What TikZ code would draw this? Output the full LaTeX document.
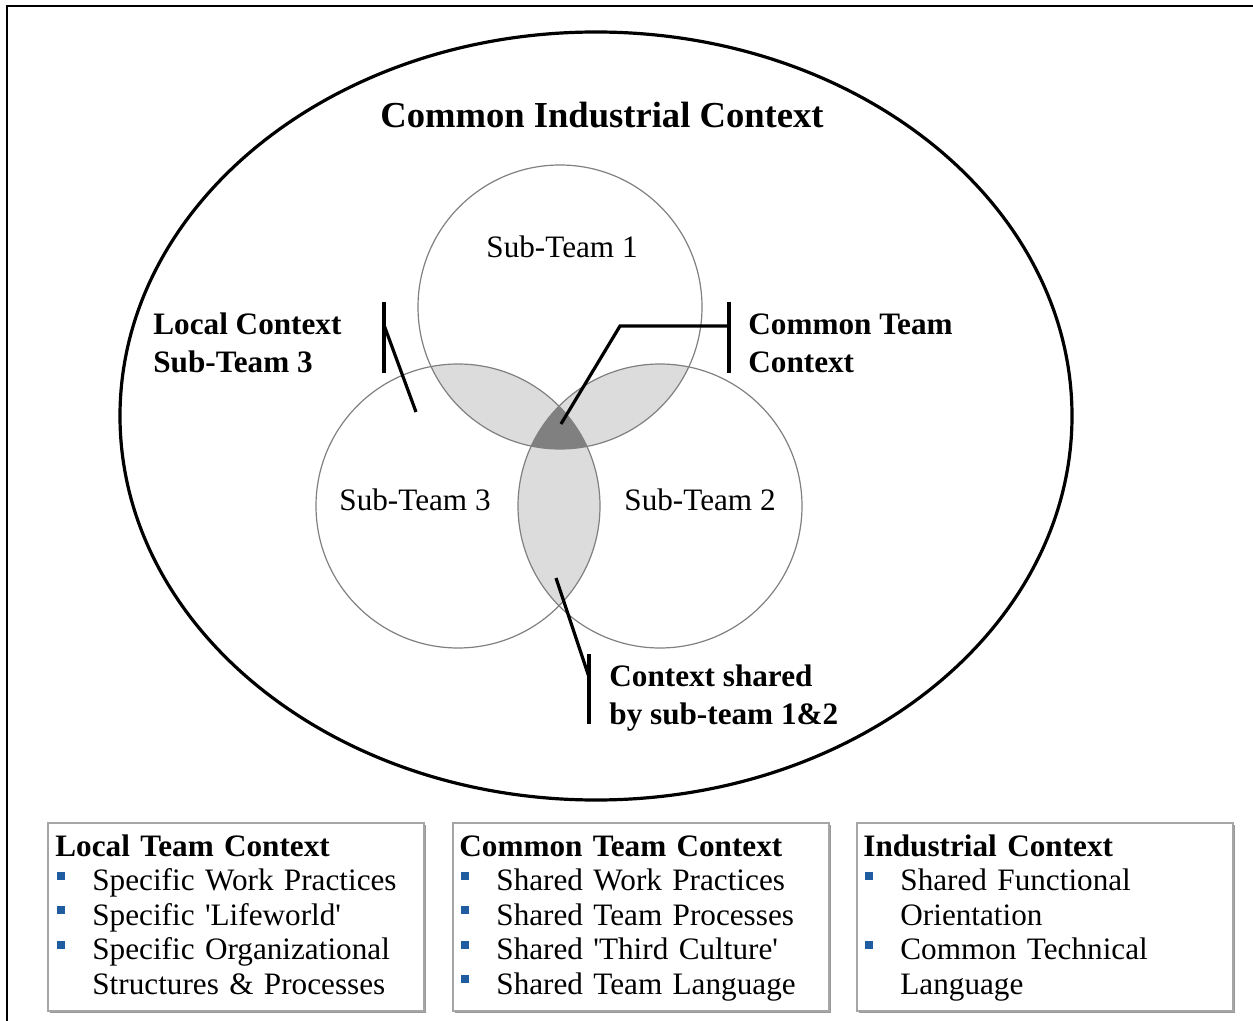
\documentclass[tikz,border=0pt]{standalone}
\usepackage{fontspec}
\setmainfont{Liberation Serif}
\usetikzlibrary{shadows}
\definecolor{bulletblue}{RGB}{31,93,160}
\definecolor{lensgray}{RGB}{220,220,220}
\definecolor{coregray}{RGB}{128,128,128}
\newcommand\bul{\makebox[18.5pt][l]{\hspace{0.6pt}\textcolor{bulletblue}{\rule[5.5pt]{4pt}{4pt}}}}
\newcommand\hang{\hspace*{18.5pt}}

\begin{document}
\begin{tikzpicture}[x=0.5pt,y=-0.5pt,
  team/.style={draw=gray, line width=0.6pt},
  callout/.style={line width=1.6pt},
  calloutlabel/.style={font=\fontsize{15.6}{19}\selectfont\bfseries, align=left, anchor=west, inner sep=0pt},
  teamlabel/.style={font=\fontsize{15.6}{19}\selectfont},
  listbox/.style={draw=gray!70, fill=white, line width=1pt, anchor=north west,
    minimum width=188pt, minimum height=94pt, inner sep=0pt,
    general shadow={shadow xshift=1pt, shadow yshift=-1pt, fill=gray!80}},
  listtext/.style={anchor=base west, inner sep=0pt, text width=182pt, align=left,
    font=\fontsize{15.6}{17.25}\selectfont}
]
\useasboundingbox (0,0) rectangle (1253,1021);
\draw[line width=1.4pt] (7,1021) -- (7,6) -- (1253,6); % frame

\draw[line width=1.6pt] (596,416) ellipse [x radius=238pt, y radius=192pt];
\node[font=\fontsize{18.3}{22}\selectfont\bfseries] (industry) at (602,115) {Common Industrial Context};

\coordinate (c1) at (560,307);
\coordinate (c2) at (660,506);
\coordinate (c3) at (458,506);

% overlaps
\begin{scope}
  \clip (c1) circle [radius=71pt];
  \fill[lensgray] (c2) circle [radius=71pt];
  \fill[lensgray] (c3) circle [radius=71pt];
\end{scope}
\begin{scope}
  \clip (c2) circle [radius=71pt];
  \fill[lensgray] (c3) circle [radius=71pt];
\end{scope}
\begin{scope}
  \clip (c1) circle [radius=71pt];
  \clip (c2) circle [radius=71pt];
  \fill[coregray] (c3) circle [radius=71pt];
\end{scope}
\draw[team] (c1) circle [radius=71pt];
\draw[team] (c2) circle [radius=71pt];
\draw[team] (c3) circle [radius=71pt];

\node[teamlabel] (t1) at (562,247) {Sub-Team 1};
\node[teamlabel] (t2) at (700,500) {Sub-Team 2};
\node[teamlabel] (t3) at (415,500) {Sub-Team 3};

% local context callout
\node[calloutlabel] (local) at (153,343) {Local Context\\Sub-Team 3};
\coordinate (local top) at (384,302);
\coordinate (local bot) at (384,373);
\coordinate (local knee) at (384,325);
\coordinate (local tip) at (416,412);
\draw[callout] (local top) -- (local bot);
\draw[callout] (local knee) -- (local tip);

% common team callout
\node[calloutlabel] (common) at (748,343) {Common Team\\Context};
\coordinate (common top) at (729,302);
\coordinate (common bot) at (729,373);
\coordinate (common knee) at (620,326);
\coordinate (common tip) at (561,424);
\draw[callout] (common top) -- (common bot);
\draw[callout] (common tip) -- (common knee) -- (common knee -| common top);

% shared callout
\node[calloutlabel] (shared) at (609,698) {Context shared\\by sub-team 1\&2};
\coordinate (shared top) at (589,654);
\coordinate (shared bot) at (589,724);
\coordinate (shared knee) at (589,677);
\coordinate (shared tip) at (556,578);
\draw[callout] (shared top) -- (shared bot);
\draw[callout] (shared tip) -- (shared knee);

% legend boxes
\node[listbox] (localbox) at (47,822) {};
\node[listbox] (commonbox) at (452,822) {};
\node[listbox] (industrybox) at (856,822) {};

\node[listtext] (locallist) at (55,856) {\textbf{Local Team Context}\\
  \bul Specific Work Practices\\
  \bul Specific \textquotesingle Lifeworld\textquotesingle\\
  \bul Specific Organizational\\
  \hang Structures \& Processes};
\node[listtext] (commonlist) at (459,856) {\textbf{Common Team Context}\\
  \bul Shared Work Practices\\
  \bul Shared Team Processes\\
  \bul Shared \textquotesingle Third Culture\textquotesingle\\
  \bul Shared Team Language};
\node[listtext] (industrylist) at (863,856) {\textbf{Industrial Context}\\
  \bul Shared Functional\\
  \hang Orientation\\
  \bul Common Technical\\
  \hang Language};
\end{tikzpicture}
\end{document}
